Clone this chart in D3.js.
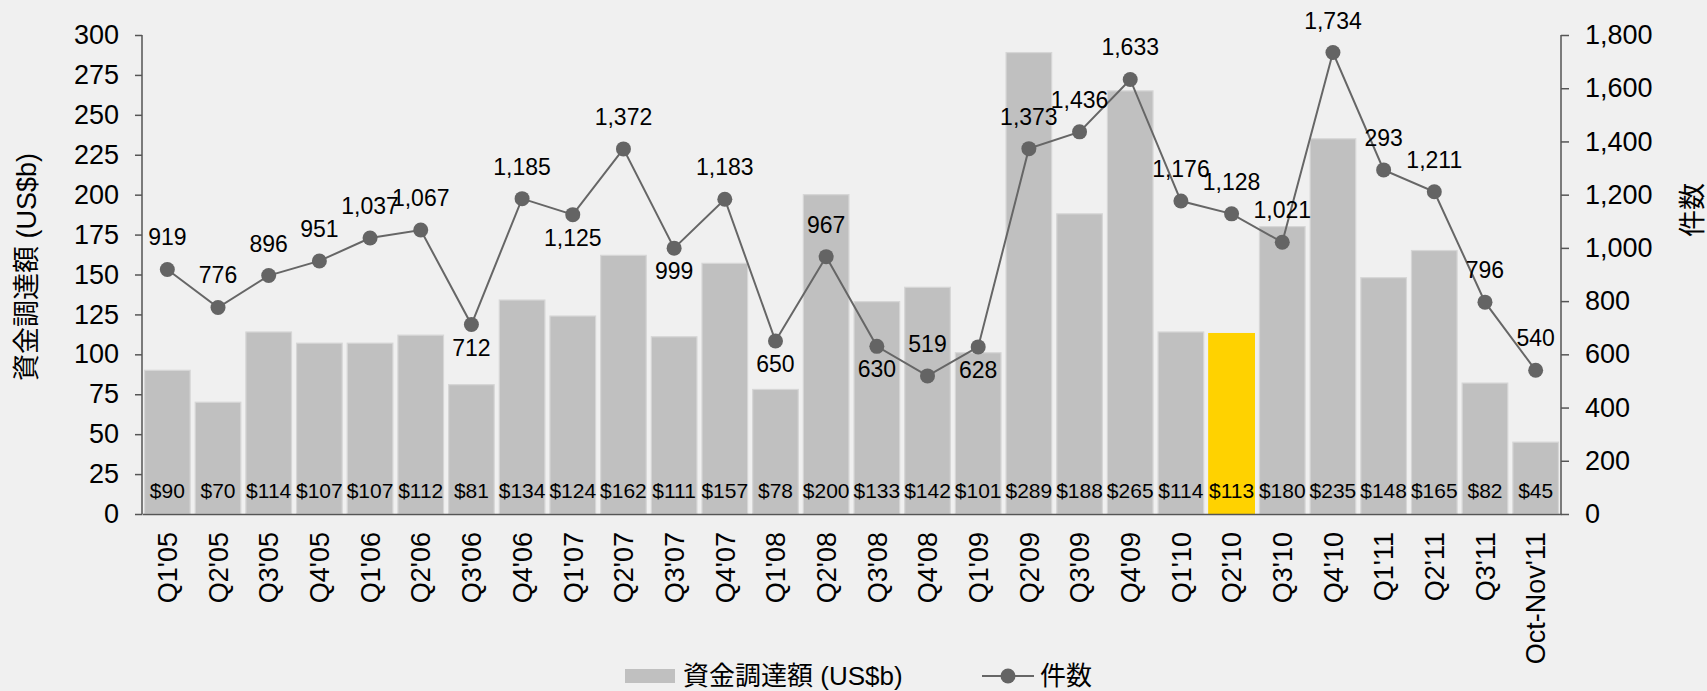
<!DOCTYPE html>
<html>
<head>
<meta charset="utf-8">
<script src="https://cdn.jsdelivr.net/npm/d3@7"></script>
<style>
  body { margin: 0; background: #f0f0f0; }
  text { font-family: "Liberation Sans", Arial, "Noto Sans CJK JP", sans-serif; fill: #000; }
</style>
</head>
<body>
<svg id="chart"></svg>
<script>
const categories = ["Q1'05","Q2'05","Q3'05","Q4'05","Q1'06","Q2'06","Q3'06","Q4'06",
  "Q1'07","Q2'07","Q3'07","Q4'07","Q1'08","Q2'08","Q3'08","Q4'08",
  "Q1'09","Q2'09","Q3'09","Q4'09","Q1'10","Q2'10","Q3'10","Q4'10",
  "Q1'11","Q2'11","Q3'11","Oct-Nov'11"];

// 資金調達額 (US$b)
const amounts = [90, 70, 114, 107, 107, 112, 81, 134, 124, 162, 111, 157, 78, 200,
  133, 142, 101, 289, 188, 265, 114, 113, 180, 235, 148, 165, 82, 45];

// 件数
const counts = [919, 776, 896, 951, 1037, 1067, 712, 1185, 1125, 1372, 999, 1183, 650, 967,
  630, 519, 628, 1373, 1436, 1633, 1176, 1128, 1021, 1734, 1293, 1211, 796, 540];

// labels as printed on the chart (the Q1'11 one shows only "293")
const countLabels = ["919","776","896","951","1,037","1,067","712","1,185","1,125","1,372","999","1,183","650","967",
  "630","519","628","1,373","1,436","1,633","1,176","1,128","1,021","1,734","293","1,211","796","540"];

// points whose label sits under the marker
const labelBelow = ["Q3'06","Q1'07","Q3'07","Q1'08","Q3'08","Q1'09"];

const highlighted = "Q2'10";

const leftTicks = d3.range(0, 301, 25);
const rightTicks = d3.range(0, 1801, 200);

const width = 1707, height = 691;
const margin = {top: 35, right: 146, bottom: 177, left: 142};
const innerW = width - margin.left - margin.right,
      innerH = height - margin.top - margin.bottom;

const svg = d3.select("#chart")
    .attr("width", width)
    .attr("height", height);

svg.append("rect").attr("width", width).attr("height", height).attr("fill", "#f0f0f0");

const g = svg.append("g")
    .attr("transform", "translate(" + margin.left + "," + margin.top + ")");

const x = d3.scaleBand().domain(categories).range([0, innerW]).paddingInner(0.1).paddingOuter(0.05);
const yL = d3.scaleLinear().domain([0, 300]).range([innerH, 0]);
const yR = d3.scaleLinear().domain([0, 1800]).range([innerH, 0]);

const data = categories.map((c, i) => ({cat: c, amount: amounts[i], count: counts[i], label: countLabels[i]}));

// bars
g.selectAll(".bar")
  .data(data)
  .enter().append("rect")
    .attr("class", "bar")
    .attr("x", d => x(d.cat))
    .attr("y", d => yL(d.amount))
    .attr("width", x.bandwidth())
    .attr("height", d => innerH - yL(d.amount))
    .attr("fill", d => d.cat === highlighted ? "#ffd200" : "#c0c0c0")
    .attr("stroke", d => d.cat === highlighted ? "#ffd200" : "#d6d6d6")
    .attr("stroke-width", 1.2);

g.selectAll(".barLabel")
  .data(data)
  .enter().append("text")
    .attr("class", "barLabel")
    .attr("x", d => x(d.cat) + x.bandwidth() / 2)
    .attr("y", innerH - 16)
    .attr("text-anchor", "middle")
    .attr("font-size", 21)
    .text(d => "$" + d.amount);

// axes
const axisColor = "#555";

const leftAxis = g.append("g")
    .call(d3.axisLeft(yL).tickValues(leftTicks).tickSize(7).tickPadding(16));

const rightAxis = g.append("g")
    .attr("transform", "translate(" + innerW + ",0)")
    .call(d3.axisRight(yR).tickValues(rightTicks).tickSize(8).tickPadding(16).tickFormat(d3.format(",")));

const bottomAxis = g.append("g")
    .attr("transform", "translate(0," + innerH + ")")
    .call(d3.axisBottom(x).tickSize(0).tickPadding(0));

[leftAxis, rightAxis, bottomAxis].forEach(a => {
  a.select(".domain").attr("stroke", axisColor).attr("stroke-width", 1.5);
  a.selectAll(".tick line").attr("stroke", axisColor).attr("stroke-width", 1.5);
  a.selectAll(".tick text").attr("font-size", 27).attr("fill", "#000");
});
leftAxis.select(".domain").attr("d", "M0," + innerH + "V0");
rightAxis.select(".domain").attr("d", "M0," + innerH + "V0");

bottomAxis.selectAll(".tick text")
    .attr("transform", "rotate(-90)")
    .attr("text-anchor", "end")
    .attr("x", -18)
    .attr("y", 0)
    .attr("dy", "0.36em");

// line + markers
const line = d3.line()
    .x(d => x(d.cat) + x.bandwidth() / 2)
    .y(d => yR(d.count));

g.append("path")
    .datum(data)
    .attr("fill", "none")
    .attr("stroke", "#666")
    .attr("stroke-width", 2)
    .attr("d", line);

g.selectAll(".dot")
  .data(data)
  .enter().append("circle")
    .attr("cx", d => x(d.cat) + x.bandwidth() / 2)
    .attr("cy", d => yR(d.count))
    .attr("r", 7.5)
    .attr("fill", "#646464");

g.selectAll(".countLabel")
  .data(data)
  .enter().append("text")
    .attr("x", d => x(d.cat) + x.bandwidth() / 2)
    .attr("y", d => yR(d.count) + (labelBelow.includes(d.cat) ? 31 : -24))
    .attr("text-anchor", "middle")
    .attr("font-size", 23)
    .text(d => d.label);

// axis titles
svg.append("text")
    .attr("transform", "translate(27,267) rotate(-90)")
    .attr("text-anchor", "middle")
    .attr("dy", "0.35em")
    .attr("font-size", 27)
    .text("資金調達額 (US$b)");

svg.append("text")
    .attr("transform", "translate(1693,210) rotate(-90)")
    .attr("text-anchor", "middle")
    .attr("dy", "0.35em")
    .attr("font-size", 27)
    .text("件数");

// legend
const legend = svg.append("g").attr("transform", "translate(0,676)");

legend.append("rect")
    .attr("x", 625).attr("y", -7)
    .attr("width", 50).attr("height", 14)
    .attr("fill", "#c0c0c0");

legend.append("text")
    .attr("x", 683).attr("dy", "0.35em")
    .attr("font-size", 26)
    .text("資金調達額 (US$b)");

legend.append("line")
    .attr("x1", 982).attr("x2", 1034)
    .attr("stroke", "#666").attr("stroke-width", 2);

legend.append("circle")
    .attr("cx", 1008).attr("r", 7.5).attr("fill", "#646464");

legend.append("text")
    .attr("x", 1040).attr("dy", "0.35em")
    .attr("font-size", 26)
    .text("件数");
</script>
</body>
</html>
